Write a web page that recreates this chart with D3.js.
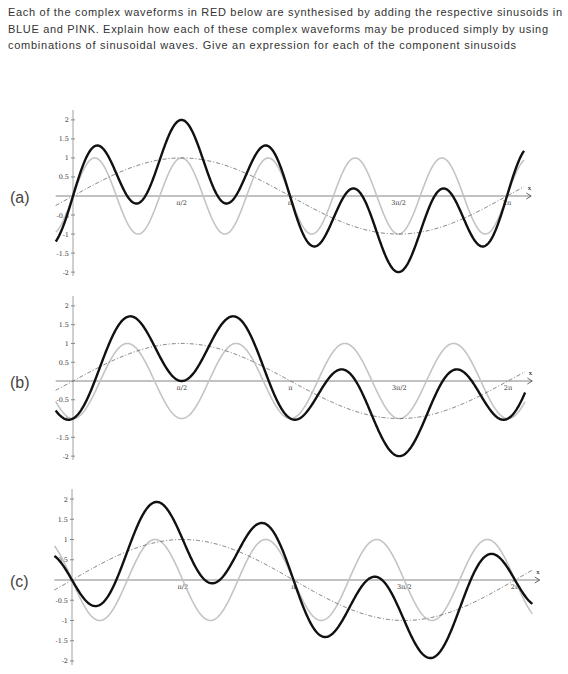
<!DOCTYPE html><html><head><meta charset="utf-8">
<script src="https://cdn.jsdelivr.net/npm/d3@7"></script>
<style>body{margin:0;background:#fff}</style></head><body>
<svg id="c" width="568" height="674"></svg>
<script>
const titleLines=["Each of the complex waveforms in RED below are synthesised by adding the respective sinusoids in","BLUE and PINK. Explain how each of these complex waveforms may be produced simply by using","combinations of sinusoidal waves. Give an expression for each of the component sinusoids"];
const titleWidths=[554,540,508];
const panelLabels=["(a)","(b)","(c)"];
// component sinusoids: amplitude, angular frequency, phase (A*sin(w x + p))
const slowComp=[[1,1,0],[1,1,0],[1,1,0]];
const fastComp=[[1,5,0],[1,4,-Math.PI/2],[-1,4,0]];
const yTicks=[-2,-1.5,-1,-0.5,0.5,1,1.5,2];
const xTicks=[[Math.PI/2,"π/2"],[Math.PI,"π"],[3*Math.PI/2,"3π/2"],[2*Math.PI,"2π"]];
const panels=[{top:118,bot:274,x0:73,x2:507},{top:304,bot:458,x0:73,x2:508},{top:497,bot:663,x0:72,x2:515}];
const svg=d3.select("#c");
svg.selectAll("text.t").data(titleLines).join("text").attr("x",8).attr("y",(d,i)=>16+i*16.5)
 .attr("font-family","Liberation Sans, Arial").attr("font-size",11).attr("fill","#333")
 .attr("textLength",(d,i)=>titleWidths[i]).attr("lengthAdjust","spacing").text(d=>d);
const samples=d3.range(-0.25,2*Math.PI+0.25,0.01);
panels.forEach((p,i)=>{
 const x=d3.scaleLinear().domain([0,2*Math.PI]).range([p.x0,p.x2]);
 const y=d3.scaleLinear().domain([-2.05,2.05]).range([p.bot,p.top]);
 const g=svg.append("g");
 g.append("line").attr("x1",x(0)).attr("x2",x(0)).attr("y1",p.top-8).attr("y2",p.bot+2).attr("stroke","#888").attr("stroke-width",0.8);
 g.append("line").attr("x1",x(-0.25)).attr("x2",x(2*Math.PI+0.35)).attr("y1",y(0)).attr("y2",y(0)).attr("stroke","#777").attr("stroke-width",0.9);
 g.append("path").attr("d",`M${x(2*Math.PI+0.28)},${y(0)-3}L${x(2*Math.PI+0.35)},${y(0)}L${x(2*Math.PI+0.28)},${y(0)+3}`).attr("fill","none").attr("stroke","#666");
 g.append("text").attr("x",x(2*Math.PI+0.3)).attr("y",y(0)-6).attr("font-size",6).attr("font-family","DejaVu Serif").text("x");
 yTicks.forEach(t=>{g.append("line").attr("x1",x(0)-2).attr("x2",x(0)+2).attr("y1",y(t)).attr("y2",y(t)).attr("stroke","#888");
  g.append("text").attr("x",x(0)-4).attr("y",y(t)+2.5).attr("text-anchor","end").attr("font-size",6.5).attr("font-family","DejaVu Serif").attr("fill","#333").text(t);});
 xTicks.forEach(([v,l])=>{g.append("text").attr("x",x(v)).attr("y",y(0)+9).attr("text-anchor","middle").attr("font-size",6.5).attr("font-family","DejaVu Serif").attr("fill","#333").text(l);});
 const s=slowComp[i],f=fastComp[i];
 const fs=t=>s[0]*Math.sin(s[1]*t+s[2]), ff=t=>f[0]*Math.sin(f[1]*t+f[2]);
 const line=fn=>d3.line().x(t=>x(t)).y(t=>y(fn(t)))(samples);
 g.append("path").attr("d",line(ff)).attr("fill","none").attr("stroke","#c4c4c4").attr("stroke-width",1.6);
 g.append("path").attr("d",line(fs)).attr("fill","none").attr("stroke","#666").attr("stroke-width",0.9).attr("stroke-dasharray","4,2,1,2");
 g.append("path").attr("d",line(t=>fs(t)+ff(t))).attr("fill","none").attr("stroke","#111").attr("stroke-width",2.4);
 g.append("text").attr("x",10).attr("y",y(0)+7).attr("font-family","Liberation Sans, Arial").attr("font-size",16).attr("fill","#444").text(panelLabels[i]);
});
</script></body></html>
